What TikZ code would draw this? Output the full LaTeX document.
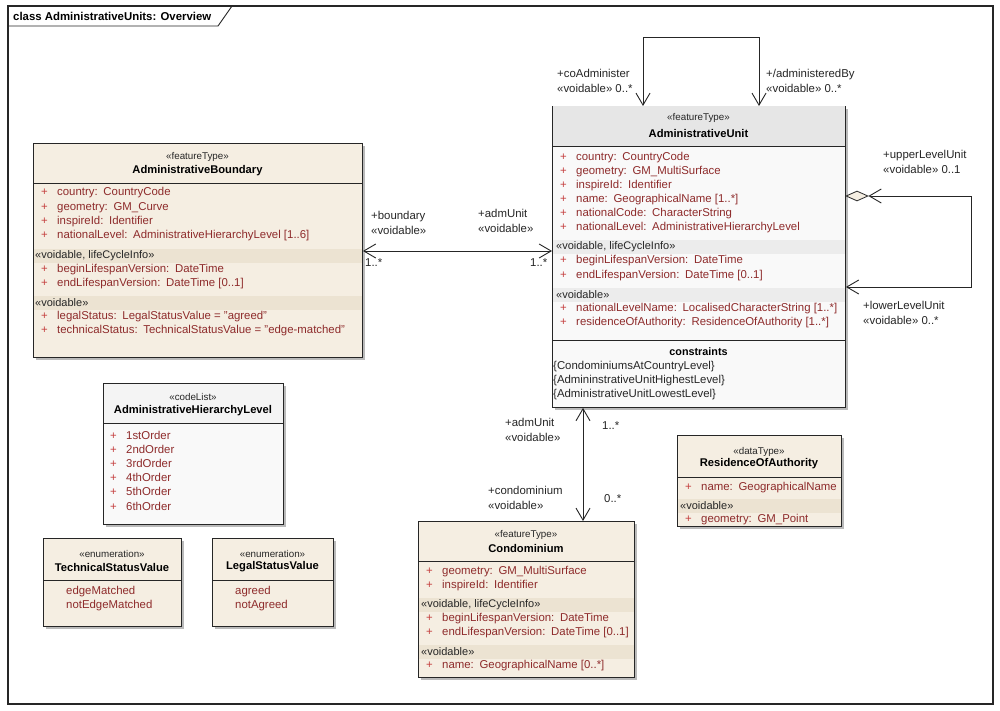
\documentclass[tikz,border=0pt]{standalone}
\usepackage{fontspec}
\setmainfont{Liberation Sans}
\usepackage{tikz}
\usepackage{xcolor}
\definecolor{umlBeige}{HTML}{F5EEE2}
\definecolor{umlBand}{HTML}{ECE3D2}
\definecolor{umlGrayHead}{HTML}{E6E6E6}
\definecolor{umlGrayBody}{HTML}{F9F9F9}
\definecolor{umlGrayBand}{HTML}{ECECEC}
\definecolor{umlAttr}{HTML}{8E2B2B}
\definecolor{umlPlus}{HTML}{C43C3C}
\definecolor{umlLine}{HTML}{262626}
\usetikzlibrary{arrows.meta,shapes.geometric,shadows}

\tikzset{
  navTip/.tip={Straight Barb[length=12pt,width=14pt]},
  umlBox/.style={draw=umlLine, line width=0.9pt, inner sep=0pt, anchor=north west,
    drop shadow={shadow xshift=3pt, shadow yshift=-3pt, fill=black!45, opacity=.6}},
  umlSep/.style={draw=umlLine, line width=0.9pt},
  stereoTxt/.style={font=\fontsize{9.8}{12}\selectfont, text=black!85, inner sep=0pt},
  nameTxt/.style={font=\fontsize{11.2}{13}\selectfont\bfseries, inner sep=0pt},
  attrTxt/.style={font=\fontsize{11.4}{13}\selectfont, text=umlAttr, anchor=west, inner sep=0pt},
  grpTxt/.style={font=\fontsize{11}{13}\selectfont, text=black!85, anchor=west, inner sep=0pt},
  assocTxt/.style={font=\fontsize{11.4}{15}\selectfont, text=black!85, align=left, anchor=west, inner sep=0pt},
  navBoth/.style={draw=umlLine, line width=0.9pt, navTip-navTip},
  aggDia/.style={diamond, draw=umlLine, fill=umlBeige, line width=0.8pt, minimum width=22pt, minimum height=10pt, inner sep=0pt}
}
\newcommand{\plusMark}{\makebox[16pt][l]{\textcolor{umlPlus}{+}}}

\begin{document}
\begin{tikzpicture}[x=1pt,y=-1pt]
  \fill[white] (0,0) rectangle (1000,711);
  \useasboundingbox (0,0) rectangle (1000,711);

  % frame
  \draw[line width=1.2pt, umlLine] (8,6) rectangle (993,704);
  \draw[line width=0.9pt, umlLine] (8,26) -- (218,26) -- (232,6);
  \node[anchor=west, inner sep=0pt, font=\fontsize{11.4}{13}\selectfont\bfseries] (title) at (13,16) {class AdministrativeUnits: Overview};

  % AdministrativeBoundary
  \node[umlBox, fill=umlBeige, minimum width=329pt, minimum height=214pt] (bnd) at (33,143) {};
  \fill[umlBand] (33.5,249) rectangle (361.5,263);
  \fill[umlBand] (33.5,296) rectangle (361.5,310);
  \draw[umlSep] (33,183) -- (362,183);
  \node[stereoTxt] (bndStereo) at (197.5,157) {«featureType»};
  \node[nameTxt] (bndName) at (197.5,171) {AdministrativeBoundary};
  \foreach \aname/\atype [count=\i] in {country/CountryCode, geometry/GM\_Curve, inspireId/Identifier, nationalLevel/{AdministrativeHierarchyLevel [1..6]}}
    \node[attrTxt] (bndAttr\i) at (41,{193+14.3*(\i-1)}) {\plusMark\aname:\enspace\atype};
  \node[grpTxt] (bndGrpA) at (35,256) {«voidable, lifeCycleInfo»};
  \foreach \aname/\atype [count=\i] in {beginLifespanVersion/DateTime, endLifespanVersion/{DateTime [0..1]}}
    \node[attrTxt] (bndLife\i) at (41,{270+14*(\i-1)}) {\plusMark\aname:\enspace\atype};
  \node[grpTxt] (bndGrpB) at (35,303) {«voidable»};
  \foreach \aname/\atype [count=\i] in {legalStatus/{LegalStatusValue = "agreed"}, technicalStatus/{TechnicalStatusValue = "edge-matched"}}
    \node[attrTxt] (bndVoid\i) at (41,{317+14*(\i-1)}) {\plusMark\aname:\enspace\atype};

  % AdministrativeUnit
  \node[umlBox, fill=umlGrayBody, minimum width=293pt, minimum height=301pt] (unit) at (552,106) {};
  \fill[umlGrayHead] (552.5,106.5) rectangle (844.5,146);
  \fill[umlGrayBand] (552.5,240) rectangle (844.5,254);
  \fill[umlGrayBand] (552.5,288) rectangle (844.5,302);
  \draw[umlSep] (552,146) -- (845,146);
  \draw[umlSep] (552,340) -- (845,340);
  \node[stereoTxt] (unitStereo) at (698.5,118) {«featureType»};
  \node[nameTxt] (unitName) at (698.5,133) {AdministrativeUnit};
  \foreach \aname/\atype [count=\i] in {country/CountryCode, geometry/GM\_MultiSurface, inspireId/Identifier, name/{GeographicalName [1..*]}, nationalCode/CharacterString, nationalLevel/AdministrativeHierarchyLevel}
    \node[attrTxt] (unitAttr\i) at (560,{158+14*(\i-1)}) {\plusMark\aname:\enspace\atype};
  \node[grpTxt] (unitGrpA) at (556,247) {«voidable, lifeCycleInfo»};
  \foreach \aname/\atype [count=\i] in {beginLifespanVersion/DateTime, endLifespanVersion/{DateTime [0..1]}}
    \node[attrTxt] (unitLife\i) at (560,{261+14.5*(\i-1)}) {\plusMark\aname:\enspace\atype};
  \node[grpTxt] (unitGrpB) at (556,295) {«voidable»};
  \begin{scope}
    \clip (552,300) rectangle (844,335);
    \foreach \aname/\atype [count=\i] in {nationalLevelName/{LocalisedCharacterString [1..*]}, residenceOfAuthority/{ResidenceOfAuthority [1..*]}}
      \node[attrTxt] (unitVoid\i) at (560,{309+14*(\i-1)}) {\plusMark\aname:\enspace\atype};
  \end{scope}
  \node[nameTxt, font=\fontsize{10.8}{13}\selectfont\bfseries] (unitCon) at (698.5,352) {constraints};
  \foreach \cname [count=\i] in {CondominiumsAtCountryLevel, AdmininstrativeUnitHighestLevel, AdministrativeUnitLowestLevel}
    \node[grpTxt, font=\fontsize{11.4}{13}\selectfont] (unitCon\i) at (553,{367+14*(\i-1)}) {\{\cname\}};

  % Condominium
  \node[umlBox, fill=umlBeige, minimum width=216pt, minimum height=156pt] (condo) at (418,521) {};
  \fill[umlBand] (418.5,598) rectangle (633.5,612);
  \fill[umlBand] (418.5,645) rectangle (633.5,659);
  \draw[umlSep] (418,561) -- (634,561);
  \node[stereoTxt] (condoStereo) at (526,535) {«featureType»};
  \node[nameTxt] (condoName) at (526,548) {Condominium};
  \foreach \aname/\atype [count=\i] in {geometry/GM\_MultiSurface, inspireId/Identifier}
    \node[attrTxt] (condoAttr\i) at (426,{572+14*(\i-1)}) {\plusMark\aname:\enspace\atype};
  \node[grpTxt] (condoGrpA) at (421,605) {«voidable, lifeCycleInfo»};
  \begin{scope}
    \clip (418,612) rectangle (633,640);
    \foreach \aname/\atype [count=\i] in {beginLifespanVersion/DateTime, endLifespanVersion/{DateTime [0..1]}}
      \node[attrTxt] (condoLife\i) at (426,{619+13.5*(\i-1)}) {\plusMark\aname:\enspace\atype};
  \end{scope}
  \node[grpTxt] (condoGrpB) at (421,652) {«voidable»};
  \node[attrTxt] (condoVoid1) at (426,666) {\plusMark name:\enspace GeographicalName [0..*]};

  % ResidenceOfAuthority
  \node[umlBox, fill=umlBeige, minimum width=164pt, minimum height=91pt] (roa) at (677,435) {};
  \fill[umlBand] (677.5,499) rectangle (840.5,513);
  \draw[umlSep] (677,477) -- (841,477);
  \node[stereoTxt] (roaStereo) at (759,452) {«dataType»};
  \node[nameTxt] (roaName) at (759,464) {ResidenceOfAuthority};
  \begin{scope}
    \clip (677,478) rectangle (840,497);
    \node[attrTxt] (roaAttr1) at (685,488) {\plusMark name:\enspace GeographicalName};
  \end{scope}
  \node[grpTxt] (roaGrp) at (680,506) {«voidable»};
  \node[attrTxt] (roaVoid1) at (685,520) {\plusMark geometry:\enspace GM\_Point};

  % AdministrativeHierarchyLevel
  \node[umlBox, fill=umlGrayBody, minimum width=180pt, minimum height=141pt] (ahl) at (103,383) {};
  \fill[umlGrayBand!60] (103.5,383.5) rectangle (282.5,423);
  \draw[umlSep] (103,423) -- (283,423);
  \node[stereoTxt] (ahlStereo) at (193,397) {«codeList»};
  \node[nameTxt] (ahlName) at (193,411) {AdministrativeHierarchyLevel};
  \foreach \lvl [count=\i] in {1st,2nd,3rd,4th,5th,6th}
    \node[attrTxt] (ahlAttr\i) at (110,{435+14.2*(\i-1)}) {\plusMark\lvl Order};

  % enumerations
  \node[umlBox, fill=umlBeige, minimum width=138pt, minimum height=88pt] (tsv) at (43,538) {};
  \draw[umlSep] (43,580) -- (181,580);
  \node[stereoTxt] (tsvStereo) at (112,554) {«enumeration»};
  \node[nameTxt] (tsvName) at (112,567) {TechnicalStatusValue};
  \node[attrTxt] (tsvVal1) at (66,592) {edgeMatched};
  \node[attrTxt] (tsvVal2) at (66,606) {notEdgeMatched};

  \node[umlBox, fill=umlBeige, minimum width=121pt, minimum height=88pt] (lsv) at (212,538) {};
  \draw[umlSep] (212,580) -- (333,580);
  \node[stereoTxt] (lsvStereo) at (272.5,554) {«enumeration»};
  \node[nameTxt] (lsvName) at (272.5,567) {LegalStatusValue};
  \node[attrTxt] (lsvVal1) at (235,592) {agreed};
  \node[attrTxt] (lsvVal2) at (235,606) {notAgreed};

  % associations
  \coordinate (coL) at (643,37);
  \coordinate (coR) at (759,37);
  \draw[navBoth] (unit.north -| coL) -- (coL) -- (coR) -- (unit.north -| coR);
  \node[assocTxt] (lblCoAdm) at (557,80.5) {+coAdminister\\«voidable» 0..*};
  \node[assocTxt] (lblAdmBy) at (766,80.5) {+/administeredBy\\«voidable» 0..*};

  \node[aggDia] (agg) at (857,196) {};
  \coordinate (upR) at (971,196);
  \coordinate (loR) at (971,287);
  \draw[navBoth] (agg.east) -- (upR) -- (loR) -- (unit.east |- loR);
  \node[assocTxt] (lblUpper) at (883,162) {+upperLevelUnit\\«voidable» 0..1};
  \node[assocTxt] (lblLower) at (863,313) {+lowerLevelUnit\\«voidable» 0..*};

  \coordinate (bndY) at (450,251);
  \draw[navBoth] (bnd.east |- bndY) -- (unit.west |- bndY);
  \node[assocTxt] (lblBnd) at (371,223) {+boundary\\«voidable»};
  \node[assocTxt] (lblAdmA) at (478,221) {+admUnit\\«voidable»};
  \node[assocTxt] (multBnd) at (365,263) {1..*};
  \node[assocTxt] (multAdmA) at (530,263) {1..*};

  \coordinate (condoX) at (583,460);
  \draw[navBoth] (unit.south -| condoX) -- (condo.north -| condoX);
  \node[assocTxt] (lblAdmB) at (505,430) {+admUnit\\«voidable»};
  \node[assocTxt] (lblCondo) at (488,497.5) {+condominium\\«voidable»};
  \node[assocTxt] (multAdmB) at (602,426) {1..*};
  \node[assocTxt] (multCondo) at (604,499) {0..*};
\end{tikzpicture}
\end{document}
